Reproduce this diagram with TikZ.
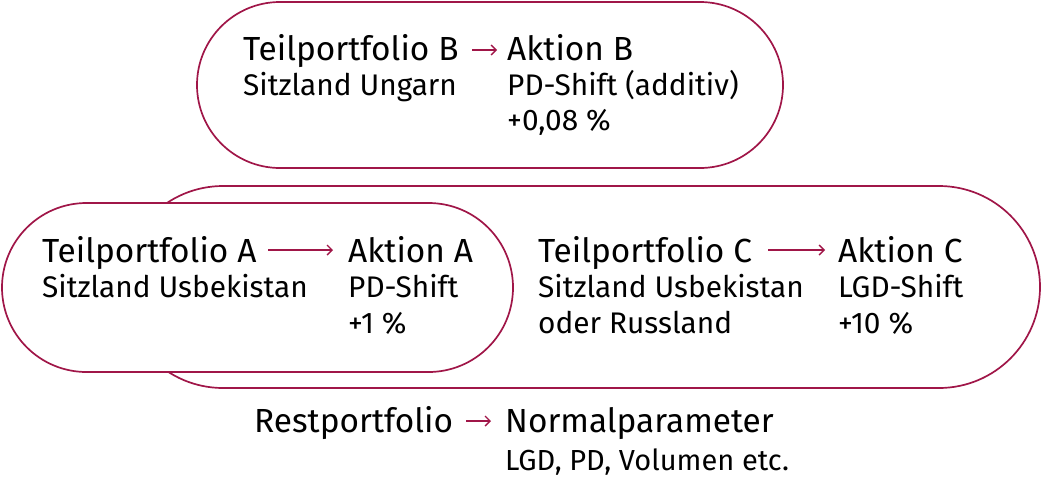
\documentclass[tikz,border=0pt]{standalone}
\usepackage{fontspec}
\setmainfont{Fira Sans}[Ligatures=NoCommon]
\usetikzlibrary{arrows.meta}
\definecolor{crim}{RGB}{160,22,72}
\tikzset{
  pill/.style={draw=crim, line width=1.7pt},
  head/.style={anchor=base west, inner sep=0pt, font=\fontsize{33.4}{33}\selectfont},
  sub/.style={anchor=base west, inner sep=0pt, font=\fontsize{29.8}{30}\selectfont},
  small/.style={anchor=base west, inner sep=0pt, font=\fontsize{29}{29}\selectfont},
  arr/.style={draw=crim, line width=1.4pt, -{Straight Barb[length=5pt,width=10pt]}},
}
\begin{document}
\begin{tikzpicture}[x=1pt,y=-1pt]
\useasboundingbox (0,0) rectangle (1043,477);
% pills
\draw[pill, rounded corners=83] (197,2) rectangle (783,168);
\draw[pill, rounded corners=101] (122,186) rectangle (1040,388);
\draw[pill, fill=white, rounded corners=84.5] (2,203) rectangle (513,372);
% group B
\node[head] (tb) at (243,60) {Teilportfolio B};
\node[sub] (sb) at (243,95) {Sitzland Ungarn};
\node[head] (ab) at (507,60) {Aktion B};
\node[sub] (pb) at (507,95) {PD-Shift (additiv)};
\node[sub] (vb) at (507,130) {+0,08\hspace{8pt}\%};
\coordinate (b1) at (472,50);
\coordinate (b2) at (497,50);
\draw[arr] (b1) -- (b2);
% group A
\node[head] (ta) at (42,262) {Teilportfolio A};
\node[sub] (sa) at (42,297) {Sitzland Usbekistan};
\node[head] (aa) at (348,262) {Aktion A};
\node[sub] (pa) at (348,297) {PD-Shift};
\node[sub] (va) at (348,333) {+1\hspace{8pt}\%};
\coordinate (a1) at (268,250);
\coordinate (a2) at (333,250);
\draw[arr] (a1) -- (a2);
% group C
\node[head] (tc) at (538,262) {Teilportfolio C};
\node[sub] (sc) at (538,297) {Sitzland Usbekistan};
\node[sub] (oc) at (538,333) {oder Russland};
\node[head] (ac) at (838,262) {Aktion C};
\node[sub] (pc) at (838,297) {LGD-Shift};
\node[sub] (vc) at (838,333) {+10\hspace{8pt}\%};
\coordinate (c1) at (768,250);
\coordinate (c2) at (825,250);
\draw[arr] (c1) -- (c2);
% rest
\node[head] (rp) at (254,432) {Restportfolio};
\node[head] (np) at (505,432) {Normalparameter};
\node[small] (lg) at (505,470) {LGD, PD, Volumen etc.};
\coordinate (r1) at (466,421);
\coordinate (r2) at (491,421);
\draw[arr] (r1) -- (r2);
\end{tikzpicture}
\end{document}
